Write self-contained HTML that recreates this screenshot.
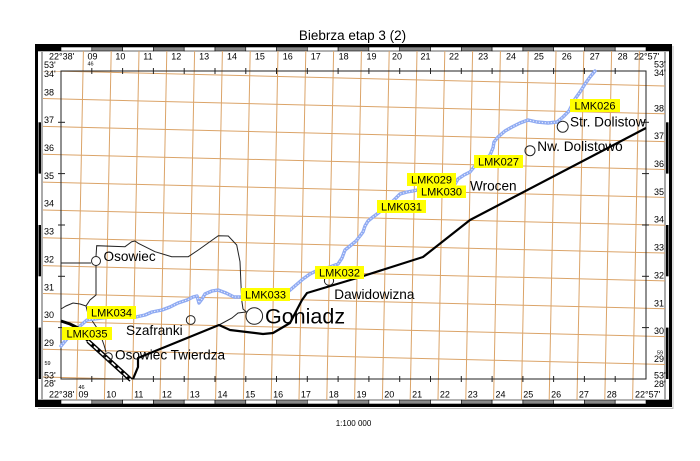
<!DOCTYPE html>
<html>
<head>
<meta charset="utf-8">
<style>
html,body{margin:0;padding:0;background:#fff;}
svg{display:block;font-family:"Liberation Sans",Arial,sans-serif;}
</style>
</head>
<body>
<svg width="700" height="461" viewBox="0 0 700 461" xmlns="http://www.w3.org/2000/svg">
<defs>
<clipPath id="cv"><rect x="61" y="51" width="585" height="349"/></clipPath>
<clipPath id="ch"><rect x="43" y="71" width="622" height="308"/></clipPath>
</defs>
<rect width="700" height="461" fill="#fff"/>

<!-- Title -->
<text x="352.5" y="40" font-size="13.5" text-anchor="middle">Biebrza etap 3 (2)</text>
<text x="353.5" y="426" font-size="8" text-anchor="middle">1:100 000</text>

<!-- Frame bands -->
<g stroke="#000" stroke-width="0.6">
<rect x="38" y="47" width="23" height="4" fill="#000"/>
<rect x="646" y="47" width="23" height="4" fill="#000"/>
<rect x="38" y="400" width="23" height="4" fill="#000"/>
<rect x="646" y="400" width="23" height="4" fill="#000"/>
</g>
<g stroke="#000" stroke-width="0.6">
<rect x="61" y="47" width="30.8" height="4" fill="#fff"/>
<rect x="91.8" y="47" width="30.8" height="4" fill="#888"/>
<rect x="122.6" y="47" width="30.8" height="4" fill="#fff"/>
<rect x="153.4" y="47" width="30.8" height="4" fill="#888"/>
<rect x="184.2" y="47" width="30.8" height="4" fill="#fff"/>
<rect x="215" y="47" width="30.8" height="4" fill="#888"/>
<rect x="245.8" y="47" width="30.8" height="4" fill="#fff"/>
<rect x="276.5" y="47" width="30.8" height="4" fill="#888"/>
<rect x="307.3" y="47" width="30.8" height="4" fill="#fff"/>
<rect x="338.1" y="47" width="30.8" height="4" fill="#888"/>
<rect x="368.9" y="47" width="30.8" height="4" fill="#fff"/>
<rect x="399.7" y="47" width="30.8" height="4" fill="#888"/>
<rect x="430.5" y="47" width="30.8" height="4" fill="#fff"/>
<rect x="461.3" y="47" width="30.8" height="4" fill="#888"/>
<rect x="492.1" y="47" width="30.8" height="4" fill="#fff"/>
<rect x="522.9" y="47" width="30.8" height="4" fill="#888"/>
<rect x="553.6" y="47" width="30.8" height="4" fill="#fff"/>
<rect x="584.4" y="47" width="30.8" height="4" fill="#888"/>
<rect x="615.2" y="47" width="30.8" height="4" fill="#fff"/>
<rect x="61" y="400" width="30.8" height="4" fill="#fff"/>
<rect x="91.8" y="400" width="30.8" height="4" fill="#888"/>
<rect x="122.6" y="400" width="30.8" height="4" fill="#fff"/>
<rect x="153.4" y="400" width="30.8" height="4" fill="#888"/>
<rect x="184.2" y="400" width="30.8" height="4" fill="#fff"/>
<rect x="215" y="400" width="30.8" height="4" fill="#888"/>
<rect x="245.8" y="400" width="30.8" height="4" fill="#fff"/>
<rect x="276.5" y="400" width="30.8" height="4" fill="#888"/>
<rect x="307.3" y="400" width="30.8" height="4" fill="#fff"/>
<rect x="338.1" y="400" width="30.8" height="4" fill="#888"/>
<rect x="368.9" y="400" width="30.8" height="4" fill="#fff"/>
<rect x="399.7" y="400" width="30.8" height="4" fill="#888"/>
<rect x="430.5" y="400" width="30.8" height="4" fill="#fff"/>
<rect x="461.3" y="400" width="30.8" height="4" fill="#888"/>
<rect x="492.1" y="400" width="30.8" height="4" fill="#fff"/>
<rect x="522.9" y="400" width="30.8" height="4" fill="#888"/>
<rect x="553.6" y="400" width="30.8" height="4" fill="#fff"/>
<rect x="584.4" y="400" width="30.8" height="4" fill="#888"/>
<rect x="615.2" y="400" width="30.8" height="4" fill="#fff"/>
</g>
<!-- left/right bands (thin) -->
<g>
<rect x="41" y="51" width="2" height="349" fill="#aaa"/>
<rect x="664" y="51" width="2" height="349" fill="#aaa"/>
<rect x="38.5" y="122.3" width="2.5" height="51.3" fill="#000"/>
<rect x="38.5" y="225" width="2.5" height="51.3" fill="#000"/>
<rect x="38.5" y="327.6" width="2.5" height="51.4" fill="#000"/>
<rect x="666" y="122.3" width="2.5" height="51.3" fill="#000"/>
<rect x="666" y="225" width="2.5" height="51.3" fill="#000"/>
<rect x="666" y="327.6" width="2.5" height="51.4" fill="#000"/>
</g>
<!-- outer thick frame -->
<rect x="36.5" y="45.5" width="634" height="360" fill="none" stroke="#000" stroke-width="3"/>
<line x1="38" y1="408.5" x2="673" y2="408.5" stroke="#bbb" stroke-width="1"/>
<line x1="673" y1="46" x2="673" y2="409" stroke="#bbb" stroke-width="1"/>

<!-- Orange grid -->
<g stroke="#dba469" stroke-width="1" fill="none" clip-path="url(#cv)">
<line x1="83.4" y1="51" x2="76.6" y2="400"/>
<line x1="111.2" y1="51" x2="104.4" y2="400"/>
<line x1="139.0" y1="51" x2="132.2" y2="400"/>
<line x1="166.8" y1="51" x2="160.0" y2="400"/>
<line x1="194.6" y1="51" x2="187.8" y2="400"/>
<line x1="222.4" y1="51" x2="215.6" y2="400"/>
<line x1="250.2" y1="51" x2="243.4" y2="400"/>
<line x1="278.0" y1="51" x2="271.2" y2="400"/>
<line x1="305.8" y1="51" x2="299.0" y2="400"/>
<line x1="333.6" y1="51" x2="326.8" y2="400"/>
<line x1="361.4" y1="51" x2="354.6" y2="400"/>
<line x1="389.2" y1="51" x2="382.4" y2="400"/>
<line x1="417.0" y1="51" x2="410.2" y2="400"/>
<line x1="444.8" y1="51" x2="438.0" y2="400"/>
<line x1="472.6" y1="51" x2="465.8" y2="400"/>
<line x1="500.4" y1="51" x2="493.6" y2="400"/>
<line x1="528.2" y1="51" x2="521.4" y2="400"/>
<line x1="556.0" y1="51" x2="549.2" y2="400"/>
<line x1="583.8" y1="51" x2="577.0" y2="400"/>
<line x1="611.6" y1="51" x2="604.8" y2="400"/>
<line x1="639.4" y1="51" x2="632.6" y2="400"/>
</g>
<g stroke="#dba469" stroke-width="1" fill="none" clip-path="url(#ch)">
<line x1="43" y1="70.7" x2="665" y2="85.95"/>
<line x1="43" y1="98.56" x2="665" y2="113.8"/>
<line x1="43" y1="126.41" x2="665" y2="141.65"/>
<line x1="43" y1="154.26" x2="665" y2="169.5"/>
<line x1="43" y1="182.11" x2="665" y2="197.35"/>
<line x1="43" y1="209.96" x2="665" y2="225.2"/>
<line x1="43" y1="237.81" x2="665" y2="253.05"/>
<line x1="43" y1="265.66" x2="665" y2="280.9"/>
<line x1="43" y1="293.51" x2="665" y2="308.75"/>
<line x1="43" y1="321.36" x2="665" y2="336.6"/>
<line x1="43" y1="349.21" x2="665" y2="364.45"/>
<line x1="43" y1="377.06" x2="665" y2="392.3"/>
</g>

<!-- neatline -->
<rect x="61" y="71" width="585" height="308" fill="none" stroke="#222" stroke-width="1"/>
<g stroke="#222" stroke-width="1">
<line x1="91.8" y1="68" x2="91.8" y2="74"/><line x1="122.6" y1="68" x2="122.6" y2="74"/>
<line x1="153.4" y1="68" x2="153.4" y2="74"/><line x1="184.2" y1="68" x2="184.2" y2="74"/>
<line x1="215" y1="68" x2="215" y2="74"/><line x1="245.8" y1="68" x2="245.8" y2="74"/>
<line x1="276.5" y1="68" x2="276.5" y2="74"/><line x1="307.3" y1="68" x2="307.3" y2="74"/>
<line x1="338.1" y1="68" x2="338.1" y2="74"/><line x1="368.9" y1="68" x2="368.9" y2="74"/>
<line x1="399.7" y1="68" x2="399.7" y2="74"/><line x1="430.5" y1="68" x2="430.5" y2="74"/>
<line x1="461.3" y1="68" x2="461.3" y2="74"/><line x1="492.1" y1="68" x2="492.1" y2="74"/>
<line x1="522.9" y1="68" x2="522.9" y2="74"/><line x1="553.6" y1="68" x2="553.6" y2="74"/>
<line x1="584.4" y1="68" x2="584.4" y2="74"/><line x1="615.2" y1="68" x2="615.2" y2="74"/>
<line x1="91.8" y1="376" x2="91.8" y2="382"/><line x1="122.6" y1="376" x2="122.6" y2="382"/>
<line x1="153.4" y1="376" x2="153.4" y2="382"/><line x1="184.2" y1="376" x2="184.2" y2="382"/>
<line x1="215" y1="376" x2="215" y2="382"/><line x1="245.8" y1="376" x2="245.8" y2="382"/>
<line x1="276.5" y1="376" x2="276.5" y2="382"/><line x1="307.3" y1="376" x2="307.3" y2="382"/>
<line x1="338.1" y1="376" x2="338.1" y2="382"/><line x1="368.9" y1="376" x2="368.9" y2="382"/>
<line x1="399.7" y1="376" x2="399.7" y2="382"/><line x1="430.5" y1="376" x2="430.5" y2="382"/>
<line x1="461.3" y1="376" x2="461.3" y2="382"/><line x1="492.1" y1="376" x2="492.1" y2="382"/>
<line x1="522.9" y1="376" x2="522.9" y2="382"/><line x1="553.6" y1="376" x2="553.6" y2="382"/>
<line x1="584.4" y1="376" x2="584.4" y2="382"/><line x1="615.2" y1="376" x2="615.2" y2="382"/>
<line x1="58" y1="122.3" x2="65" y2="122.3"/><line x1="58" y1="173.6" x2="65" y2="173.6"/>
<line x1="58" y1="225" x2="65" y2="225"/><line x1="58" y1="276.3" x2="65" y2="276.3"/>
<line x1="58" y1="327.6" x2="65" y2="327.6"/>
<line x1="642" y1="122.3" x2="649" y2="122.3"/><line x1="642" y1="173.6" x2="649" y2="173.6"/>
<line x1="642" y1="225" x2="649" y2="225"/><line x1="642" y1="276.3" x2="649" y2="276.3"/>
<line x1="642" y1="327.6" x2="649" y2="327.6"/>
</g>

<!-- Frame labels -->
<g font-size="9" fill="#000">
<text x="49" y="59.5">22°38'</text>
<text x="87.5" y="59.5">09</text><text x="115.4" y="59.5">10</text><text x="143.3" y="59.5">11</text>
<text x="171.2" y="59.5">12</text><text x="199.1" y="59.5">13</text><text x="227" y="59.5">14</text>
<text x="254.9" y="59.5">15</text><text x="282.8" y="59.5">16</text><text x="310.7" y="59.5">17</text>
<text x="338.6" y="59.5">18</text><text x="366.5" y="59.5">19</text><text x="392" y="59.5">20</text>
<text x="420.5" y="59.5">21</text><text x="449" y="59.5">22</text><text x="478.1" y="59.5">23</text>
<text x="506" y="59.5">24</text><text x="533.9" y="59.5">25</text><text x="561.8" y="59.5">26</text>
<text x="589.7" y="59.5">27</text><text x="617.6" y="59.5">28</text>
<text x="634" y="59.5">22°57'</text>

<text x="49" y="397.5">22°38'</text>
<text x="78.5" y="397.5">09</text><text x="106.3" y="397.5">10</text><text x="134.1" y="397.5">11</text>
<text x="161.9" y="397.5">12</text><text x="189.7" y="397.5">13</text><text x="217.5" y="397.5">14</text>
<text x="245.3" y="397.5">15</text><text x="273.1" y="397.5">16</text><text x="300.9" y="397.5">17</text>
<text x="328.7" y="397.5">18</text><text x="356.5" y="397.5">19</text><text x="384.3" y="397.5">20</text>
<text x="412.1" y="397.5">21</text><text x="439.9" y="397.5">22</text><text x="467.7" y="397.5">23</text>
<text x="495.5" y="397.5">24</text><text x="523.3" y="397.5">25</text><text x="551.1" y="397.5">26</text>
<text x="578.9" y="397.5">27</text><text x="606.7" y="397.5">28</text>
<text x="635" y="397.5">22°57'</text>

<text x="44" y="68">53'</text><text x="44" y="77">34'</text>
<text x="44" y="95.3">38</text><text x="44" y="123.15">37</text><text x="44" y="151">36</text>
<text x="44" y="178.85">35</text><text x="44" y="206.7">34</text><text x="44" y="234.55">33</text>
<text x="44" y="262.4">32</text><text x="44" y="290.25">31</text><text x="44" y="318.1">30</text>
<text x="44" y="345.95">29</text>
<text x="44" y="378.5">53'</text><text x="44" y="386.5">28'</text>

<text x="654" y="67.5">53'</text><text x="654" y="76">34'</text>
<text x="654" y="111.3">38</text><text x="654" y="139.15">37</text><text x="654" y="167">36</text>
<text x="654" y="194.85">35</text><text x="654" y="222.7">34</text><text x="654" y="250.55">33</text>
<text x="654" y="278.4">32</text><text x="654" y="306.25">31</text><text x="654" y="334.1">30</text>
<text x="654" y="361.95">29</text>
<text x="654" y="378.5">53'</text><text x="654" y="387">28'</text>
</g>
<g font-size="5.5" fill="#000">
<text x="87.5" y="65.5">46</text>
<text x="78.5" y="389">46</text>
<text x="44.5" y="365">59</text>
<text x="657" y="354.5">59</text>
</g>

<!-- Thin boundary lines -->
<g fill="none" stroke="#222" stroke-width="1">
<polyline points="61,263 91,263"/>
<polyline points="96,256.5 96.7,245.7 125,246.7 131.7,241.7 135,241 138.3,243.3 155,251.7 171.7,256.7 188.3,256.7 198.3,250 218.3,235.7 228.3,236 236.7,245 240,261.7 241,285 241.7,300 243,309 246.5,312"/>
<polyline points="96,265.5 96,295 90,300 86,306 88,314 93,322 99,331 104,345 106,352"/>
<polyline points="61,309 66,306 73,303 80,304 86,306"/>
<polyline points="219,325 232,318 238,313 246,312"/>
</g>

<!-- River -->
<g fill="none" stroke-linejoin="round" stroke-linecap="round">
<polyline stroke="#8faaf2" stroke-width="3.4" points="61,346 66,340 72,333 80,326 87,320 110,317 136,317 145,315 152,312 162,310 170,307 178,303 187,300 193,297 197,296 199,303 202,299 205,294 212,291 218,290 226,293 234,297 241,297 265,294 289,291 296,285 303,279 310,274 316,271 330,267 338,264 342,258 345,250 350,246 356,241 360,236 363,232 365,226 368,221 373,217 377,214 390,204 395,199 400,194 407,192 413,191 417,190 440,186 455,184 458,179 464,175 470,172 474,167 485,160 490,155 493,148 494,142 498,137 505,131 512,127 520,123 528,120 537,122 548,123 557,122 563,117 569,111 575,99 580,92 585,84 590,77 595,71"/>
<polyline stroke="#e6ecff" stroke-width="1.1" stroke-linecap="butt" stroke-dasharray="1.3 1.7" points="61,346 66,340 72,333 80,326 87,320 110,317 136,317 145,315 152,312 162,310 170,307 178,303 187,300 193,297 197,296 199,303 202,299 205,294 212,291 218,290 226,293 234,297 241,297 265,294 289,291 296,285 303,279 310,274 316,271 330,267 338,264 342,258 345,250 350,246 356,241 360,236 363,232 365,226 368,221 373,217 377,214 390,204 395,199 400,194 407,192 413,191 417,190 440,186 455,184 458,179 464,175 470,172 474,167 485,160 490,155 493,148 494,142 498,137 505,131 512,127 520,123 528,120 537,122 548,123 557,122 563,117 569,111 575,99 580,92 585,84 590,77 595,71"/>
</g>

<!-- Main route -->
<polyline fill="none" stroke="#000" stroke-width="2.2" stroke-linejoin="round" points="646,128 470,220 423,257 357,278 307,293 302,300 290,323 273,333 263,334 230,330 219,325 138,358 138,367 133,379"/>
<polyline fill="none" stroke="#000" stroke-width="3" points="61,321 70,324 78,328 88,341"/>
<!-- Railway -->
<line x1="88" y1="341" x2="131" y2="380" stroke="#000" stroke-width="4.5"/>
<line x1="88" y1="341" x2="131" y2="380" stroke="#fff" stroke-width="1.6" stroke-dasharray="5 3"/>

<!-- Circles -->
<g fill="none" stroke="#222" stroke-width="1">
<circle cx="96" cy="261" r="4.5"/>
<circle cx="190.7" cy="320" r="4.4"/>
<circle cx="254.3" cy="316" r="8.3"/>
<circle cx="329" cy="280.7" r="4.6"/>
<circle cx="108.3" cy="356.7" r="4"/>
<circle cx="530" cy="150.7" r="5"/>
<circle cx="562.7" cy="126.7" r="5.5"/>
</g>

<!-- Place names -->
<g font-size="13.6" fill="#000">
<text x="103.5" y="261">Osowiec</text>
<text x="126" y="335">Szafranki</text>
<text x="115" y="359.3">Osowiec Twierdza</text>
<text x="334.3" y="299">Dawidowizna</text>
<text x="470" y="190.7">Wrocen</text>
<text x="537.3" y="151">Nw. Dolistowo</text>
<text x="570" y="126.7">Str. Dolistow</text>
</g>
<text x="265" y="323.3" font-size="21.5" fill="#000">Goniadz</text>

<!-- LMK labels -->
<g font-size="11" fill="#000" text-anchor="middle">
<rect x="570" y="99" width="50" height="13" fill="#ffff00"/><text x="595" y="109.5">LMK026</text>
<rect x="474" y="155" width="49" height="13" fill="#ffff00"/><text x="498.5" y="165.5">LMK027</text>
<rect x="407" y="173" width="49" height="13" fill="#ffff00"/><text x="431.5" y="183.5">LMK029</text>
<rect x="417" y="185.5" width="49" height="12.5" fill="#ffff00"/><text x="441.5" y="195.5">LMK030</text>
<rect x="377" y="200" width="49" height="13" fill="#ffff00"/><text x="401.5" y="210.5">LMK031</text>
<rect x="315" y="266" width="49" height="13" fill="#ffff00"/><text x="339.5" y="276.5">LMK032</text>
<rect x="241" y="288" width="49" height="13" fill="#ffff00"/><text x="265.5" y="298.5">LMK033</text>
<rect x="87" y="306" width="49" height="13" fill="#ffff00"/><text x="111.5" y="316.5">LMK034</text>
<rect x="62" y="327" width="50" height="13" fill="#ffff00"/><text x="87" y="337.5">LMK035</text>
</g>
</svg>
</body>
</html>
